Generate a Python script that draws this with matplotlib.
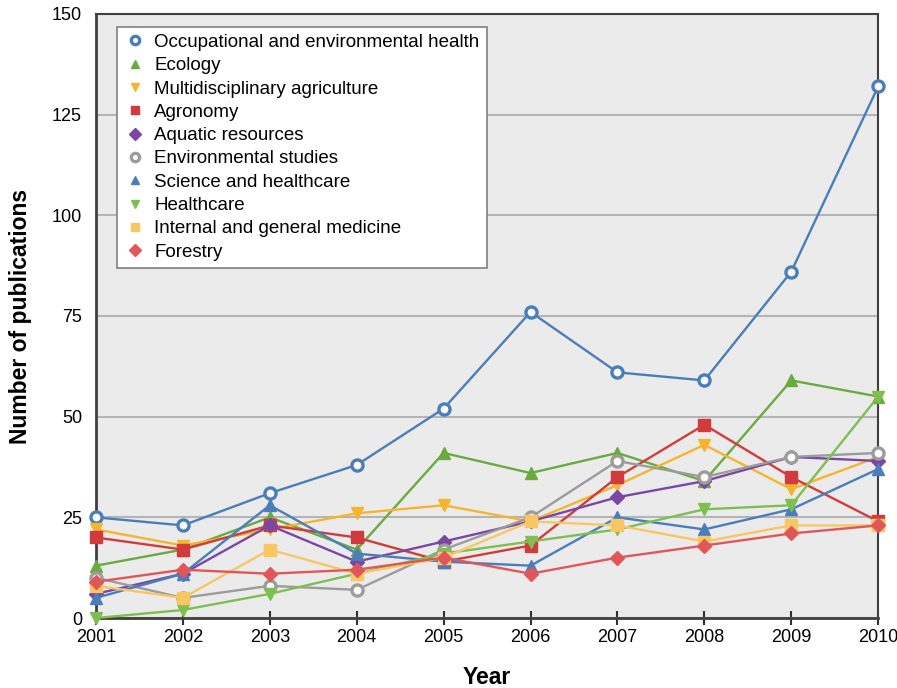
import matplotlib
matplotlib.use("Agg")
import matplotlib.pyplot as plt

plt.rcParams["font.family"] = ["Liberation Sans", "DejaVu Sans"]

years = [2001, 2002, 2003, 2004, 2005, 2006, 2007, 2008, 2009, 2010]

occupational = [25, 23, 31, 38, 52, 76, 61, 59, 86, 132]
ecology = [13, 17, 25, 17, 41, 36, 41, 34, 59, 55]
multi_agri = [22, 18, 22, 26, 28, 24, 33, 43, 32, 40]
agronomy = [20, 17, 23, 20, 14, 18, 35, 48, 35, 24]
aquatic = [6, 11, 23, 14, 19, 24, 30, 34, 40, 39]
env_studies = [10, 5, 8, 7, 17, 25, 39, 35, 40, 41]
sci_health = [5, 11, 28, 16, 14, 13, 25, 22, 27, 37]
healthcare = [0, 2, 6, 11, 16, 19, 22, 27, 28, 55]
int_medicine = [8, 5, 17, 11, 15, 24, 23, 19, 23, 23]
forestry = [9, 12, 11, 12, 15, 11, 15, 18, 21, 23]

labels = [
    "Occupational and environmental health",
    "Ecology",
    "Multidisciplinary agriculture",
    "Agronomy",
    "Aquatic resources",
    "Environmental studies",
    "Science and healthcare",
    "Healthcare",
    "Internal and general medicine",
    "Forestry",
]
series = [occupational, ecology, multi_agri, agronomy, aquatic,
          env_studies, sci_health, healthcare, int_medicine, forestry]

# colour, marker, hollow?
styles = [
    ("#4a7ebb", "o", True),
    ("#6aab3f", "^", False),
    ("#f5b52e", "v", False),
    ("#d13b3b", "s", False),
    ("#7b47a3", "D", False),
    ("#9c9c9c", "o", True),
    ("#4a7ebb", "^", False),
    ("#7fbf4f", "v", False),
    ("#f8c764", "s", False),
    ("#e0575a", "D", False),
]

fig = plt.figure(figsize=(8.97, 6.88), dpi=100)
ax = fig.add_axes([0.107, 0.1017, 0.872, 0.878])
ax.set_facecolor("#ebebeb")

for vals, lab, (col, mk, hollow) in zip(series, labels, styles):
    ms = 9 if mk in ("^", "v") else 8
    if mk == "D":
        ms = 7
    ax.plot(years, vals, color=col, lw=1.7, marker=mk, markersize=ms,
            markerfacecolor="white" if hollow else col,
            markeredgecolor=col, markeredgewidth=2.4 if hollow else 1,
            label=lab, clip_on=False, zorder=3)

ax.set_xlim(2001, 2010)
ax.set_ylim(0, 150)
ax.set_yticks([0, 25, 50, 75, 100, 125, 150])
ax.set_xticks(years)
ax.grid(axis="y", color="#b5b5b5", lw=1.5)
ax.set_axisbelow(True)
for s in ax.spines.values():
    s.set_color("#404040")
    s.set_linewidth(2)
ax.spines["right"].set_linewidth(1.5)
ax.spines["top"].set_linewidth(1.5)
ax.tick_params(axis="x", direction="inout", length=10, width=1.5, color="#303030",
               labelsize=13, pad=3)
ax.tick_params(axis="y", length=0, labelsize=13, pad=10)

ax.set_xlabel("Year", fontsize=16.5, fontweight="bold", labelpad=14)
ax.set_ylabel("Number of publications", fontsize=16.5, fontweight="bold", labelpad=14)

leg = ax.legend(loc="upper left", bbox_to_anchor=(0.027, 0.979), fontsize=13.5,
                frameon=True, fancybox=False, edgecolor="#808080", framealpha=1,
                handlelength=1.2, handletextpad=0.4, labelspacing=0.33,
                borderpad=0.38, borderaxespad=0)
leg.get_frame().set_linewidth(1.2)
for h in leg.get_lines():
    h.set_linestyle("none")
    h.set_markersize(6)

fig.savefig("out.png", dpi=100)
